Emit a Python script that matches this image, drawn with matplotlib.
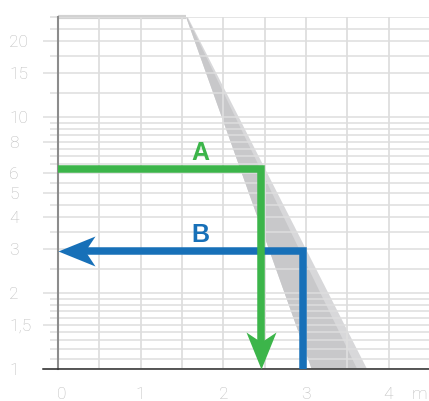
import matplotlib
matplotlib.use("Agg")
import matplotlib.pyplot as plt
from matplotlib.path import Path
from matplotlib.transforms import ScaledTranslation
import numpy as np

# ---- data ----
y_major = [1, 1.5, 2, 3, 4, 5, 6, 8, 10, 15, 20]
y_major_labels = ["1", "1,5", "2", "3", "4", "5", "6", "8", "10", "15", "20"]
y_minor = [1.1, 1.2, 1.3, 1.4, 1.6, 1.7, 1.8, 1.9, 2.5, 3.5, 4.5, 5.5, 6.5, 7,
           7.5, 8.5, 9, 9.5, 12.5, 17.5, 22.5, 25]
x_major = [0, 1, 2, 3, 4]
x_major_labels = ["0", "1", "2", "3", "4"]
x_grid = [0.5, 1, 1.5, 2, 2.5, 3, 3.5, 4]
x_unit = "m"

# grey zone: flat top, then sloped band
zone_top = 25
zone_flat_x = [0, 1.55]
zone_outer_x = [1.55, 3.07, 3.74, 1.57]
zone_outer_y = [25, 1, 1, 25]
zone_inner_x = [1.55, 3.07, 3.62, 1.56]
zone_inner_y = [25, 1, 1, 25]

# path A (green): horizontal then down
A_y = 6.2
A_x = 2.46
A_label_pos = (1.72, 7.2)
# path B (blue): up then left
B_x = 2.96
B_y = 2.93
B_label_pos = (1.72, 3.42)

GREEN = "#3cb54a"
BLUE = "#1770b8"
GRID = "#dedede"
TXT = "#bcbcbc"

fig = plt.figure(figsize=(4.29, 4.01), dpi=100)
W, H = 429, 401
ax = fig.add_axes([58 / W, (H - 369) / H, (429 - 58) / W, (369 - 17) / H])
ax.set_yscale("log")
ax.set_xlim(0, 4.49)
ax.set_ylim(1, 25)

for s in ax.spines.values():
    s.set_visible(False)

# grid & ticks
ax.set_yticks(y_major)
ax.set_yticklabels(y_major_labels)
ax.set_yticks(y_minor, minor=True)
ax.yaxis.set_minor_formatter(plt.NullFormatter())
ax.set_xticks(x_major)
ax.set_xticklabels(x_major_labels)
ax.set_xticks(x_grid, minor=True)
ax.set_axisbelow(True)
ax.yaxis.grid(True, which="both", color=GRID, linewidth=1.1)
ax.xaxis.grid(True, which="both", color=GRID, linewidth=1.3)
ax.tick_params(axis="y", which="major", length=10.8, width=1.1, color=GRID,
               pad=24.5, labelsize=12.5, labelcolor=TXT)
ax.tick_params(axis="y", which="minor", length=5.8, width=1.1, color=GRID)
ax.tick_params(axis="x", which="both", length=0, pad=13, labelsize=12.5,
               labelcolor=TXT)
for lab in ax.get_yticklabels():
    lab.set_horizontalalignment("left")
    lab.set_fontfamily(["Roboto", "DejaVu Sans"])
    lab.set_fontweight("light")
for lab in ax.get_xticklabels():
    lab.set_fontfamily(["Roboto", "DejaVu Sans"])
    lab.set_fontweight("light")
xl = ax.get_xticklabels()
xl[0].set_transform(xl[0].get_transform() + ScaledTranslation(4 / 100, 0, fig.dpi_scale_trans))

ax.annotate(x_unit, xy=(4.38, 0), xycoords=("data", "axes fraction"),
            xytext=(0, -13), textcoords="offset points", ha="center", va="top",
            fontsize=12.5, color=TXT, family=["Roboto", "DejaVu Sans"],
            fontweight="light", annotation_clip=False)

# grey zone
ax.fill(zone_outer_x, zone_outer_y, color="#d8d8da", lw=0, zorder=0.2)
ax.fill(zone_inner_x, zone_inner_y, color="#c8c8ca", lw=0, zorder=0.3)
ax.plot(zone_flat_x, [zone_top, zone_top], color="#d2d2d2", lw=3, zorder=0.4,
        clip_on=False, solid_capstyle="butt")

# axis lines
ax.axvline(0, color="#8c8c8c", lw=1.5, zorder=1, clip_on=False)
ax.plot([-15 / 82.6, 4.49], [1, 1], color="#2a2a2a", lw=1.1, zorder=1,
        clip_on=False)

# arrow head markers (tip at origin)
L, Wd, N = 37, 30, 27
down_head = Path([(0, 0), (-Wd / 2, L), (0, N), (Wd / 2, L), (0, 0)],
                 [Path.MOVETO, Path.LINETO, Path.LINETO, Path.LINETO, Path.CLOSEPOLY])
left_head = Path([(0, 0), (L, Wd / 2), (N, 0), (L, -Wd / 2), (0, 0)],
                 [Path.MOVETO, Path.LINETO, Path.LINETO, Path.LINETO, Path.CLOSEPOLY])
ms = 2 * L * 0.72

def shift_display(x, y, dx, dy):
    px, py = ax.transData.transform((x, y))
    return ax.transData.inverted().transform((px + dx, py + dy))

lw = 5.4
# B (blue)
bx_end, _ = shift_display(0, B_y, 22, 0)
ax.plot([B_x, B_x, bx_end], [1, B_y, B_y], color=BLUE, lw=lw,
        solid_joinstyle="miter", solid_capstyle="butt", zorder=3, clip_on=False)
ax.plot([0], [B_y], marker=left_head, ms=ms, color=BLUE, mew=0, zorder=3.1,
        clip_on=False)
ax.text(*B_label_pos, "B", color=BLUE, fontsize=18, fontweight="bold",
        family=["Liberation Sans", "DejaVu Sans"], ha="center", va="center", zorder=5)

# A (green)
_, ay_end = shift_display(A_x, 1, 0, 22)
ax.plot([0, A_x, A_x], [A_y, A_y, ay_end], color=GREEN, lw=lw,
        solid_joinstyle="miter", solid_capstyle="butt", zorder=4)
ax.plot([A_x], [1], marker=down_head, ms=ms, color=GREEN, mew=0, zorder=4.1,
        clip_on=False)
ax.text(*A_label_pos, "A", color=GREEN, fontsize=18, fontweight="bold",
        family=["Liberation Sans", "DejaVu Sans"], ha="center", va="center", zorder=5)

fig.savefig("out.png", dpi=100)
